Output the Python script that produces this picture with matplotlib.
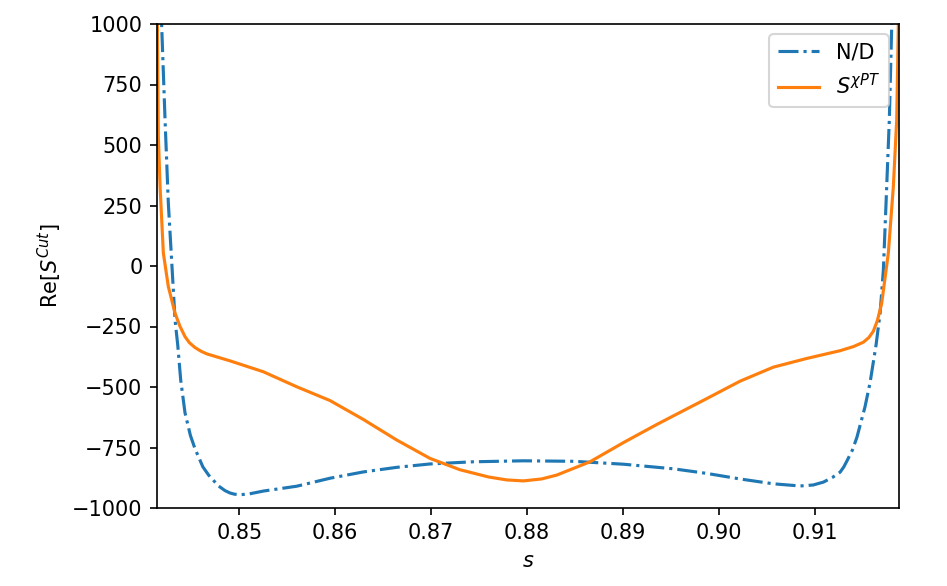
import matplotlib
matplotlib.use("Agg")
import matplotlib.pyplot as plt

# N/D curve
nd_s = [0.84180, 0.84191, 0.84226, 0.84260, 0.84295, 0.84330, 0.84358, 0.84389,
        0.84434, 0.84490, 0.84538, 0.84620, 0.84680, 0.84726, 0.84780, 0.84850,
        0.84903, 0.84950, 0.85010, 0.85100, 0.85250, 0.85598, 0.85945, 0.86292,
        0.86640, 0.86987, 0.87439, 0.87960, 0.88481, 0.89002, 0.89523, 0.89871,
        0.90218, 0.90565, 0.90844, 0.90980, 0.91087, 0.91180, 0.91261, 0.91300,
        0.91333, 0.91390, 0.91437, 0.91520, 0.91573, 0.91636, 0.91678, 0.91712,
        0.91740, 0.91774, 0.91799, 0.91810]
nd_re = [1200, 989, 603, 260, 20, -223, -326, -471,
         -607, -700, -755, -830, -864, -884, -908, -928,
         -938, -943, -945, -942, -930, -910, -877, -851,
         -832, -818, -809, -805, -807, -819, -838, -857,
         -880, -900, -909, -905, -893, -874, -852, -830,
         -805, -760, -707, -583, -483, -326, -195, -17,
         260, 603, 989, 1200]

# chiPT curve
chpt_s = [0.84142, 0.84150, 0.84156, 0.84174, 0.84208, 0.84260, 0.84330, 0.84380,
          0.84434, 0.84480, 0.84538, 0.84600, 0.84660, 0.84903, 0.85250, 0.85598,
          0.85945, 0.86292, 0.86640, 0.86987, 0.87300, 0.87600, 0.87787, 0.87960,
          0.88150, 0.88308, 0.88655, 0.89002, 0.89350, 0.89593, 0.89871, 0.90218,
          0.90565, 0.90914, 0.91261, 0.91400, 0.91503, 0.91560, 0.91607, 0.91650,
          0.91695, 0.91764, 0.91816, 0.91851, 0.91868, 0.91875]
chpt_re = [1200, 800, 534, 328, 54, -85, -195, -248,
           -292, -317, -337, -352, -363, -392, -437, -499,
           -556, -634, -719, -795, -842, -872, -884, -888,
           -880, -864, -809, -730, -655, -605, -548, -476,
           -418, -382, -350, -333, -315, -296, -270, -225,
           -153, 54, 328, 603, 989, 1200]

fig = plt.figure(figsize=(947/150, 586/150), dpi=150)
ax = fig.add_axes([157/947, 1-508/586, (899-157)/947, (508-24)/586])
ax.plot(nd_s, nd_re, '-.', color='#1f77b4', label='N/D')
ax.plot(chpt_s, chpt_re, '-', color='#ff7f0e', label=r'$S^{\chi PT}$')
ax.set_xlim(0.84142, 0.91875)
ax.set_ylim(-1000, 1000)
ax.set_xticks([0.85, 0.86, 0.87, 0.88, 0.89, 0.90, 0.91])
ax.set_xticklabels(['0.85', '0.86', '0.87', '0.88', '0.89', '0.90', '0.91'])
ax.set_yticks(list(range(-1000, 1001, 250)))
ax.set_xlabel(r'$s$')
ax.set_ylabel(r'Re$[S^{Cut}]$')
ax.legend(loc='upper right')
fig.savefig('out.png', dpi=150)
